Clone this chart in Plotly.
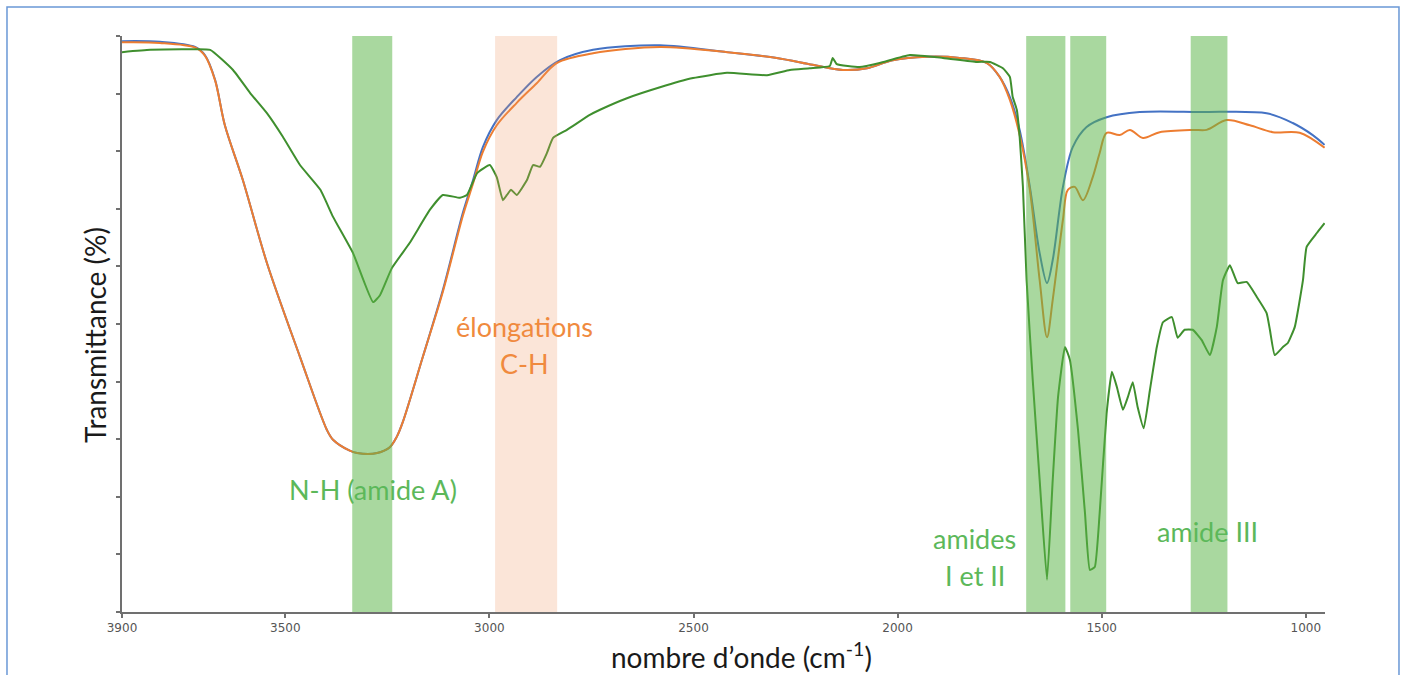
import plotly.graph_objects as go

# ---- data (wavenumber cm-1, transmittance %) ----
blue_wn = [3900, 3807, 3721, 3697, 3672, 3648, 3604, 3545, 3464, 3398, 3383, 3342, 3324, 3275, 3244, 3227, 3212,
           3163, 3114, 3065, 3040, 3016, 2982, 2933, 2884, 2827, 2746, 2582, 2418, 2296, 2208, 2134, 2075,
           2012, 1928, 1848, 1781, 1750, 1725, 1701, 1676, 1652, 1634, 1620, 1595, 1571, 1537, 1488, 1407, 1260,
           1096, 1032, 983, 954]
blue_t = [99.1, 99.0, 98.1, 96.7, 92.4, 84.5, 75.0, 60.6, 44.3, 31.6, 29.9, 28.0, 27.6, 27.6, 28.6, 30.4, 33.0,
          44.3, 55.9, 69.3, 75.0, 80.7, 85.4, 89.4, 92.9, 95.8, 97.6, 98.4, 97.2, 96.2, 95.0, 94.1, 94.4,
          95.8, 96.4, 96.2, 95.3, 92.9, 89.4, 83.7, 73.8, 62.3, 57.1, 61.1, 73.8, 80.7, 84.2, 85.9, 86.8, 86.8,
          86.6, 84.9, 82.8, 81.1]

orange_wn = [3900, 3807, 3721, 3697, 3672, 3648, 3604, 3545, 3464, 3398, 3383, 3342, 3324, 3275, 3244, 3227, 3212,
             3163, 3114, 3065, 3040, 3016, 2982, 2933, 2884, 2835, 2746, 2582, 2418, 2296, 2208, 2134, 2075,
             2012, 1928, 1848, 1781, 1750, 1725, 1701, 1676, 1652, 1634, 1620, 1595, 1583, 1566, 1546, 1522, 1505,
             1488, 1456, 1431, 1399, 1358, 1277, 1243, 1194, 1137, 1081, 1015, 954]
orange_t = [98.9, 98.8, 98.0, 96.6, 92.3, 84.5, 75.0, 60.6, 44.3, 31.6, 29.9, 28.0, 27.6, 27.6, 28.6, 30.4, 33.0,
            44.3, 55.6, 68.8, 74.4, 79.9, 84.5, 88.4, 91.8, 95.3, 97.0, 98.1, 97.2, 96.2, 95.0, 94.1, 94.4,
            95.8, 96.4, 96.2, 95.3, 92.9, 88.9, 82.8, 73.3, 57.6, 47.7, 54.2, 68.1, 73.3, 73.8, 71.5, 75.5, 79.7,
            83.2, 82.8, 83.7, 82.3, 83.3, 83.7, 83.7, 85.4, 84.5, 83.3, 83.2, 80.6]

green_wn = [3900, 3831, 3733, 3684, 3628, 3586, 3545, 3506, 3464, 3414, 3383, 3334, 3285, 3268, 3239, 3195, 3146,
            3114, 3072, 3055, 3030, 2999, 2982, 2967, 2957, 2947, 2933, 2908, 2893, 2876, 2859, 2844, 2810, 2754,
            2729, 2663, 2582, 2501, 2418, 2320, 2264, 2215, 2166, 2159, 2149, 2093, 2044, 1970, 1889, 1806, 1774,
            1742, 1725, 1718, 1708, 1701, 1693, 1684, 1669, 1652, 1634, 1620, 1607, 1590, 1578, 1558, 1541, 1529,
            1517, 1505, 1488, 1475, 1463, 1448, 1436, 1424, 1412, 1397, 1382, 1365, 1350, 1328, 1314, 1297, 1277,
            1255, 1235, 1218, 1203, 1186, 1167, 1145, 1120, 1096, 1088, 1076, 1056, 1044, 1027, 1007, 998, 973, 954]
green_t = [97.2, 97.6, 97.7, 97.6, 94.1, 90.1, 86.6, 82.5, 77.6, 73.3, 68.6, 62.3, 53.8, 55.0, 59.7, 64.1, 69.8,
           72.4, 71.9, 72.4, 76.2, 77.6, 75.5, 71.5, 72.4, 73.3, 72.4, 75.0, 77.6, 77.3, 79.7, 82.3, 83.7, 86.3,
           87.2, 89.2, 91.1, 92.7, 93.6, 93.2, 94.1, 94.4, 94.8, 96.2, 95.1, 94.6, 95.3, 96.7, 96.2, 95.5, 95.5,
           94.4, 92.9, 89.4, 87.2, 82.5, 73.8, 57.6, 40.3, 22.9, 5.6, 22.9, 37.3, 46.0, 43.8, 31.6, 17.2, 7.3,
           7.8, 17.2, 34.5, 41.7, 39.1, 35.1, 37.3, 39.9, 35.6, 31.9, 38.5, 46.0, 50.3, 51.2, 47.6, 49.0, 49.0,
           47.2, 44.6, 49.5, 57.6, 60.2, 57.1, 57.3, 54.7, 51.9, 49.0, 44.6, 46.0, 46.7, 49.5, 57.6, 63.4, 65.8, 67.5]

# highlighted bands (wavenumber ranges)
green_bands = [(3336, 3238), (1685, 1589), (1577, 1489), (1282, 1192)]
orange_bands = [(2986, 2834)]

x_ticks = [3900, 3500, 3000, 2500, 2000, 1500, 1000]
y_ticks = [0, 10, 20, 30, 40, 50, 60, 70, 80, 90, 100]

labels_green = [("N-H (amide A)", 3285, 21.2), ("amides", 1811, 12.8), ("I et II", 1811, 6.4),
                ("amide III", 1240, 13.9)]
labels_orange = [("élongations", 2913, 49.5), ("C-H", 2913, 43.2)]

x_title = "nombre d’onde (cm<sup>-1</sup>)"
y_title = "Transmittance (%)"

BLUE = "#4472c4"
ORANGE = "#ed7d31"
GREEN = "#3f8f2e"
TEXT_GREEN = "#5cb85a"
TEXT_ORANGE = "#f08a3e"
FONT = "Lato"

fig = go.Figure()
fig.add_trace(go.Scatter(x=blue_wn, y=blue_t, mode="lines",
                         line=dict(color=BLUE, width=2, shape="spline", smoothing=0.9)))
fig.add_trace(go.Scatter(x=orange_wn, y=orange_t, mode="lines",
                         line=dict(color=ORANGE, width=2, shape="spline", smoothing=0.9)))
fig.add_trace(go.Scatter(x=green_wn, y=green_t, mode="lines",
                         line=dict(color=GREEN, width=2, shape="spline", smoothing=0.4)))

shapes = []
for a, b in green_bands:
    shapes.append(dict(type="rect", xref="x", yref="y", x0=a, x1=b, y0=0, y1=100, layer="above",
                       fillcolor="rgb(90,180,70)", opacity=0.52, line=dict(width=0)))
for a, b in orange_bands:
    shapes.append(dict(type="rect", xref="x", yref="y", x0=a, x1=b, y0=0, y1=100, layer="above",
                       fillcolor="rgb(240,150,100)", opacity=0.25, line=dict(width=0)))
# blue frame around the figure
shapes.append(dict(type="rect", xref="paper", yref="paper", x0=-0.0956, x1=1.0615, y0=-0.14, y1=1.0503,
                   line=dict(color="#6a98d6", width=1.5), fillcolor="rgba(0,0,0,0)", layer="below"))

annotations = []
for txt, x, y in labels_green:
    annotations.append(dict(text=txt, x=x, y=y, xref="x", yref="y", showarrow=False,
                            font=dict(family=FONT, size=27, color=TEXT_GREEN)))
for txt, x, y in labels_orange:
    annotations.append(dict(text=txt, x=x, y=y, xref="x", yref="y", showarrow=False,
                            font=dict(family=FONT, size=27, color=TEXT_ORANGE)))
# axis titles
annotations.append(dict(text=x_title, x=0.515, y=-0.0747, xref="paper", yref="paper", showarrow=False,
                        xanchor="center", yanchor="middle",
                        font=dict(family=FONT, size=28, color="#1a1a1a")))
annotations.append(dict(text=y_title, x=-0.0224, y=0.481, xref="paper", yref="paper", showarrow=False,
                        xanchor="center", yanchor="middle", textangle=-90,
                        font=dict(family=FONT, size=28, color="#1a1a1a")))

fig.update_layout(
    width=1405, height=675,
    margin=dict(l=122, r=80, t=36, b=63, autoexpand=False),
    paper_bgcolor="white", plot_bgcolor="white",
    showlegend=False,
    shapes=shapes, annotations=annotations,
    xaxis=dict(range=[3900, 953], tickvals=x_ticks, ticktext=[str(v) for v in x_ticks],
               showgrid=False, zeroline=False, showline=True, linecolor="#707070", linewidth=2,
               ticks="outside", ticklen=4, tickcolor="#707070", tickwidth=1.5,
               tickfont=dict(family="DejaVu Sans", size=12, color="#555555"),
               automargin=False),
    yaxis=dict(range=[0, 100], tickvals=y_ticks, showticklabels=False,
               showgrid=False, zeroline=False, showline=True, linecolor="#707070", linewidth=2,
               ticks="outside", ticklen=4, tickcolor="#707070", tickwidth=1.5,
               automargin=False),
)

fig.write_html("out.html")
